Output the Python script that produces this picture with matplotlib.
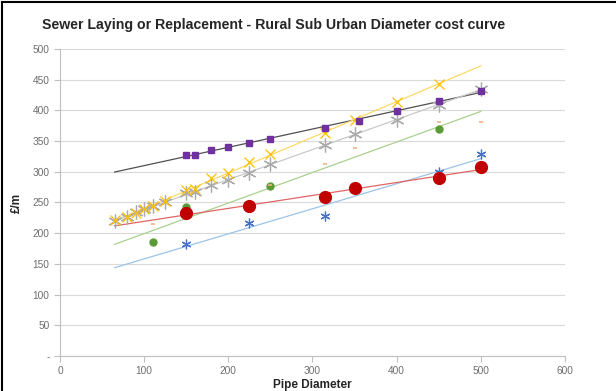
import numpy as np
import matplotlib.pyplot as plt
from matplotlib.lines import Line2D

plt.rcParams['font.family'] = ['Liberation Sans', 'DejaVu Sans']

# values (pipe diameter vs cost in GBP/m)
sq_x = [150, 160, 180, 200, 225, 250, 315, 355, 400, 450, 500]
sq_y = [327, 328, 335, 340, 347, 354, 372, 383, 399, 415, 432]

yx_x = [65, 80, 90, 100, 110, 125, 150, 160, 180, 200, 225, 250, 315, 350, 400, 450]
yx_y = [222, 227, 233, 240, 244, 252, 270, 272, 290, 298, 316, 329, 363, 385, 414, 443]

gy_x = [65, 80, 90, 100, 110, 125, 150, 160, 180, 200, 225, 250, 315, 350, 400, 450, 500]
gy_y = [220, 226, 234, 240, 245, 251, 265, 267, 278, 287, 298, 312, 344, 361, 384, 409, 435]

gr_x = [110, 150, 250, 450]
gr_y = [186, 243, 277, 370]

bl_x = [150, 225, 315, 450, 500]
bl_y = [182, 217, 228, 300, 329]

rd_x = [150, 225, 315, 350, 450, 500]
rd_y = [233, 245, 259, 274, 290, 308]

or_x = [110, 250, 315, 350, 450, 500]
or_y = [215, 278, 313, 339, 381, 381]

x_ticks = [0, 100, 200, 300, 400, 500, 600]
y_ticks = [0, 50, 100, 150, 200, 250, 300, 350, 400, 450, 500]
y_labels = ['-'] + [str(v) for v in y_ticks[1:]]

fig = plt.figure(figsize=(6.16, 3.91), dpi=100)
ax = fig.add_axes([0.0974, 0.0895, 0.8198, 0.7852])

def trend(x, y, color):
    # linear trendline, forecast back to 65 like the excel chart
    p = np.polyfit(x, y, 1)
    xs = np.array([65, 500])
    ax.plot(xs, np.polyval(p, xs), '-', color=color, lw=0.9, zorder=2)

trend(sq_x, sq_y, '#505050')
trend(yx_x, yx_y, '#FFD966')
trend(gy_x, gy_y, '#C9C9C9')
trend(gr_x, gr_y, '#A9D18E')
trend(bl_x, bl_y, '#9DC3E6')
trend(rd_x, rd_y, '#E06666')

ax.plot(gy_x, gy_y, ls='none', marker=(6, 2, 0), ms=10, mec='#ABABAB', mew=0.9, zorder=3)
ax.plot(yx_x, yx_y, ls='none', marker='x', ms=7, mec='#FFC000', mew=0.9, zorder=3)
ax.plot(sq_x, sq_y, ls='none', marker='s', ms=5, color='#7030A0', zorder=4)
ax.plot(gr_x, gr_y, ls='none', marker='o', ms=5, color='#5B9B35', zorder=4)
ax.plot(bl_x, bl_y, ls='none', marker=(6, 2, 0), ms=7, mec='#4472C4', mew=0.9, zorder=4)
ax.plot(rd_x, rd_y, ls='none', marker='o', ms=8.5, color='#C00000', zorder=4)
ax.plot(or_x, or_y, ls='none', marker='_', ms=3, mec='#F4B183', mew=1.2, zorder=4)

ax.set_xlim(0, 600)
ax.set_ylim(0, 500)
ax.set_xticks(x_ticks)
ax.set_yticks(y_ticks)
ax.set_yticklabels(y_labels)
ax.grid(axis='y', color='#D9D9D9', lw=0.8)
ax.set_axisbelow(True)
for s in ['top', 'right']:
    ax.spines[s].set_visible(False)
for s in ['left', 'bottom']:
    ax.spines[s].set_color('#BFBFBF')
    ax.spines[s].set_linewidth(0.8)
ax.tick_params(colors='#BFBFBF', labelcolor='#6E6E6E', labelsize=7.3, length=4, width=0.8)

ax.set_xlabel('Pipe Diameter', fontsize=8.5, fontweight='bold', color='#262626', labelpad=2)
ax.set_ylabel('£/m', fontsize=8.5, fontweight='bold', color='#262626', labelpad=7)
fig.text(0.068, 0.936, 'Sewer Laying or Replacement - Rural Sub Urban Diameter cost curve',
         fontsize=10.2, fontweight='bold', color='#262626', va='center')

# screenshot border along top and left edge
fig.add_artist(Line2D([0.004, 0.004], [0, 0.994], color='black', lw=1.5))
fig.add_artist(Line2D([0.004, 1], [0.994, 0.994], color='black', lw=1.5))

fig.savefig('out.png', dpi=100)
